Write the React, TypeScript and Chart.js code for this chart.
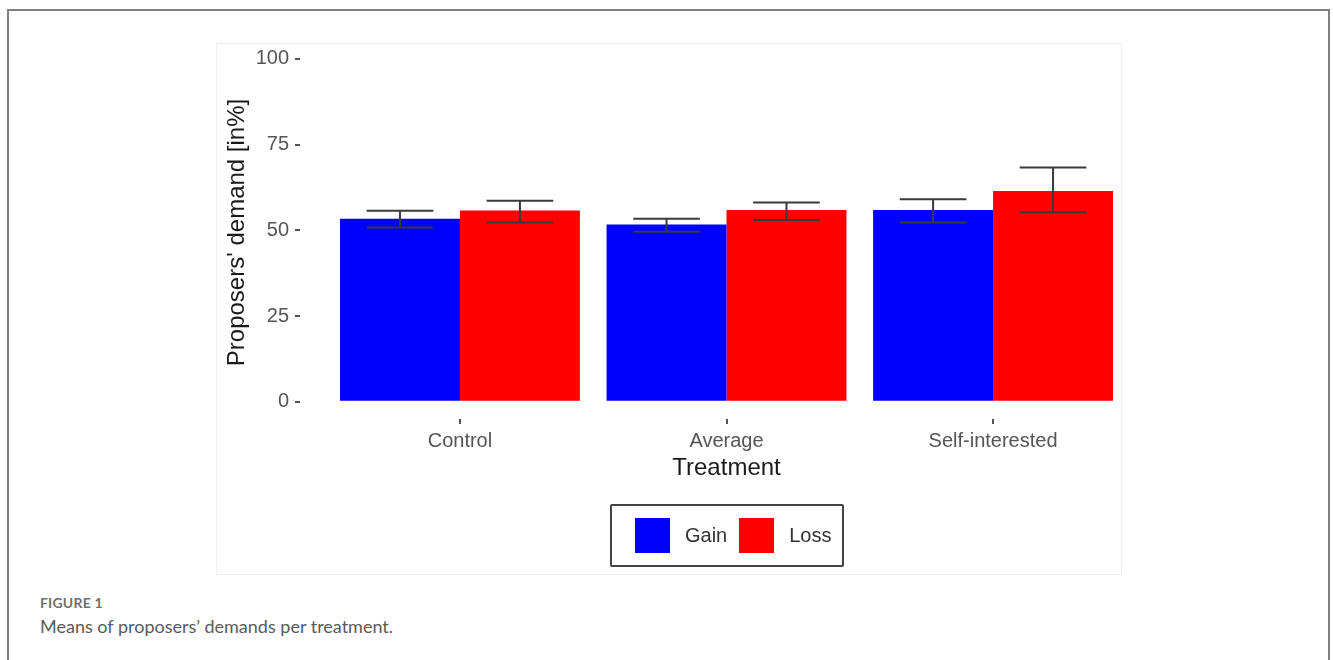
import React, { useEffect, useRef } from "react";
import { Chart, registerables } from "chart.js";

Chart.register(...registerables);

// Treatments and tick values
const treatments = ["Control", "Average", "Self-interested"];
const yTicks = [0, 25, 50, 75, 100];

// Mean demand per treatment, in %
const gainMeans = [53.4, 51.7, 55.9];
const lossMeans = [55.8, 55.9, 61.5];

// Error bar ends (lower / upper)
const gainLow = [50.8, 49.6, 52.3];
const gainHigh = [55.7, 53.4, 59.1];
const lossLow = [52.3, 53.0, 55.3];
const lossHigh = [58.6, 58.1, 68.3];

const seriesLabels = ["Gain", "Loss"];
const seriesColors = ["#0000ff", "#ff0000"];

const AXIS_FONT = "'Liberation Sans', Arial, sans-serif";
const CAP_HALF_UNITS = 0.125;

const errorBarPlugin = {
  id: "errorBars",
  afterDatasetsDraw(chart: any) {
    const { ctx } = chart;
    const xScale = chart.scales.x;
    const yScale = chart.scales.y;
    const lows = [gainLow, lossLow];
    const highs = [gainHigh, lossHigh];
    const half = Math.abs(
      xScale.getPixelForValue(1 + CAP_HALF_UNITS) - xScale.getPixelForValue(1)
    );
    ctx.save();
    ctx.strokeStyle = "#3a3a3a";
    ctx.lineWidth = 2;
    chart.data.datasets.forEach((_: any, di: number) => {
      const meta = chart.getDatasetMeta(di);
      meta.data.forEach((bar: any, i: number) => {
        const x = bar.x;
        const yLo = yScale.getPixelForValue(lows[di][i]);
        const yHi = yScale.getPixelForValue(highs[di][i]);
        ctx.beginPath();
        ctx.moveTo(x, yLo);
        ctx.lineTo(x, yHi);
        ctx.moveTo(x - half, yLo);
        ctx.lineTo(x + half, yLo);
        ctx.moveTo(x - half, yHi);
        ctx.lineTo(x + half, yHi);
        ctx.stroke();
      });
    });
    ctx.restore();
  },
};

function DemandChart() {
  const canvasRef = useRef<HTMLCanvasElement | null>(null);

  useEffect(() => {
    if (!canvasRef.current) return;
    const means = [gainMeans, lossMeans];
    const chart = new Chart(canvasRef.current, {
      type: "bar",
      data: {
        datasets: seriesLabels.map((label, s) => ({
          label,
          data: means[s].map((v, i) => ({ x: i + 1, y: v })),
          backgroundColor: seriesColors[s],
          borderWidth: 0,
          barPercentage: 1,
          categoryPercentage: 0.9,
        })),
      },
      options: {
        responsive: false,
        animation: false,
        layout: { padding: { left: 3, right: 0, top: 3, bottom: 88 } },
        plugins: {
          legend: { display: false },
          tooltip: { enabled: false },
        },
        scales: {
          x: {
            type: "linear",
            offset: false,
            min: 0.4,
            max: 3.6,
            afterBuildTicks: (scale: any) => {
              scale.ticks = treatments.map((_, i) => ({ value: i + 1 }));
            },
            afterFit: (scale: any) => {
              scale.height = 68;
              scale.paddingLeft = 0;
              scale.paddingRight = 0;
            },
            ticks: {
              callback: (v: any) => treatments[Number(v) - 1] ?? "",
              font: { family: AXIS_FONT, size: 20 },
              color: "#555555",
              padding: 5,
              maxRotation: 0,
              autoSkip: false,
            },
            grid: {
              display: true,
              offset: false,
              drawOnChartArea: false,
              drawTicks: true,
              tickLength: 5,
              tickColor: "#555555",
              lineWidth: 2,
            },
            border: { display: false },
            title: {
              display: true,
              text: "Treatment",
              font: { family: AXIS_FONT, size: 24 },
              color: "#1a1a1a",
            },
          },
          y: {
            type: "linear",
            min: -5,
            max: 103.75,
            afterBuildTicks: (scale: any) => {
              scale.ticks = yTicks.map((v) => ({ value: v }));
            },
            afterFit: (scale: any) => {
              scale.width = 81;
              scale.paddingTop = 0;
              scale.paddingBottom = 0;
            },
            ticks: {
              font: { family: AXIS_FONT, size: 20 },
              color: "#555555",
              padding: 6,
            },
            grid: {
              display: true,
              drawOnChartArea: false,
              drawTicks: true,
              tickLength: 5,
              tickColor: "#555555",
              lineWidth: 2,
            },
            border: { display: false },
            title: {
              display: true,
              text: "Proposers' demand [in%]",
              font: { family: AXIS_FONT, size: 24 },
              color: "#1a1a1a",
            },
          },
        },
      },
      plugins: [errorBarPlugin],
    } as any);
    return () => chart.destroy();
  }, []);

  return <canvas ref={canvasRef} width={937} height={532} />;
}

export default function App() {
  return (
    <div
      style={{
        position: "fixed",
        left: 0,
        top: 0,
        width: 1333,
        height: 660,
        overflow: "hidden",
        background: "#ffffff",
      }}
    >
      {/* article frame */}
      <div
        style={{
          position: "absolute",
          left: 7,
          top: 9,
          width: 1323,
          height: 720,
          border: "2px solid #7f7f7f",
          boxSizing: "border-box",
        }}
      />
      {/* figure panel */}
      <div
        style={{
          position: "absolute",
          left: 216,
          top: 43,
          width: 906,
          height: 532,
          border: "1px solid #efefef",
          boxSizing: "border-box",
          background: "#ffffff",
        }}
      />
      <div style={{ position: "absolute", left: 216, top: 43, width: 937, height: 532 }}>
        <DemandChart />
      </div>
      {/* legend */}
      <div
        style={{
          position: "absolute",
          left: 610,
          top: 504,
          width: 234,
          height: 63,
          border: "2px solid #444444",
          borderRadius: 2,
          boxSizing: "border-box",
          display: "flex",
          alignItems: "center",
          paddingLeft: 23,
          fontFamily: AXIS_FONT,
          fontSize: 20,
          color: "#333333",
        }}
      >
        {seriesLabels.map((label, s) => (
          <div key={label} style={{ display: "flex", alignItems: "center", marginRight: s === 0 ? 12 : 0 }}>
            <span
              style={{
                display: "inline-block",
                width: 35,
                height: 35,
                background: seriesColors[s],
                marginRight: 15,
              }}
            />
            <span>{label}</span>
          </div>
        ))}
      </div>
      {/* caption */}
      <div
        style={{
          position: "absolute",
          left: 40,
          top: 594,
          fontFamily: "Lato, 'Open Sans', sans-serif",
          fontSize: 14,
          fontWeight: 700,
          color: "#707070",
          letterSpacing: 0.2,
        }}
      >
        FIGURE 1
      </div>
      <div
        style={{
          position: "absolute",
          left: 40,
          top: 615,
          fontFamily: "Lato, 'Open Sans', sans-serif",
          fontSize: 18,
          color: "#5a5a5a",
        }}
      >
        Means of proposers’ demands per treatment.
      </div>
    </div>
  );
}
